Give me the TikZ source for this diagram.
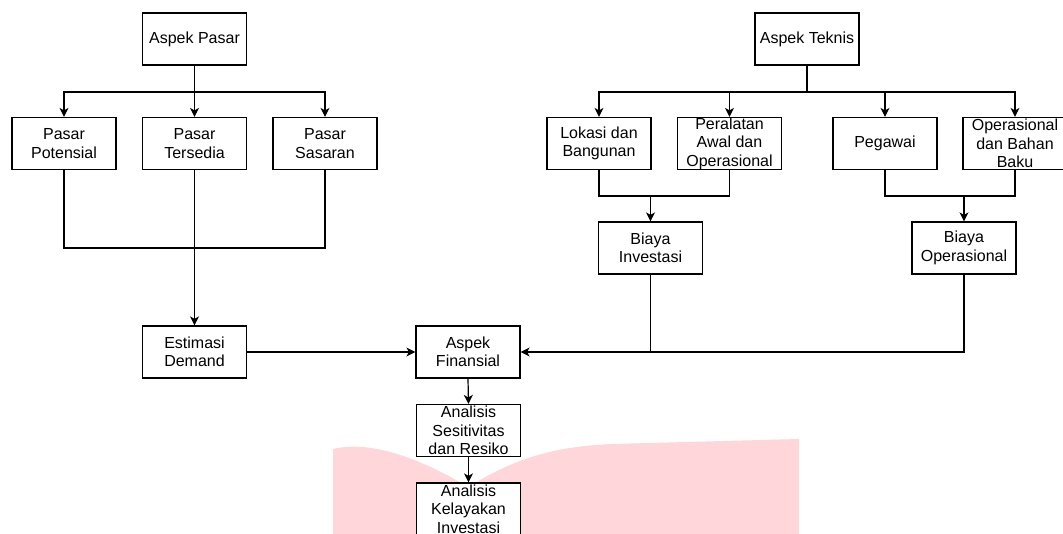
\documentclass[tikz,border=0pt]{standalone}
\usepackage{fontspec}
\setmainfont{Liberation Sans}
\usetikzlibrary{arrows.meta}
\definecolor{wmpink}{HTML}{FFD6D9}
\begin{document}
\begin{tikzpicture}[x=1pt,y=-1pt,
  box/.style={draw=black, fill=white, minimum width=104pt, minimum height=52pt,
    inner sep=0pt, align=center, line width=1.2pt,
    font=\fontsize{16}{18.5}\selectfont},
  conn/.style={line width=1.2pt, draw=black},
  arr/.style={conn, -{Stealth[length=9pt,width=9pt,inset=2.5pt]}}]
\useasboundingbox (0,0) rectangle (1063,534);
% watermark shape
\fill[wmpink] (333,534) -- (333,449)
  .. controls (370,440) and (420,458) .. (468,487)
  .. controls (510,462) and (545,447) .. (612,444)
  -- (799,439) -- (799,534) -- cycle;
% nodes
\node[box] (pasar) at (194.5,39) {Aspek Pasar};
\node[box] (pot) at (64,143.5) {Pasar\\Potensial};
\node[box] (ters) at (194.5,143.5) {Pasar\\Tersedia};
\node[box] (sas) at (325,143.5) {Pasar\\Sasaran};
\node[box] (est) at (194.5,352) {Estimasi\\Demand};
\node[box] (fin) at (468,352) {Aspek\\Finansial};
\node[box] (sens) at (468.5,430.5) {Analisis\\Sesitivitas\\dan Resiko};
\node[box] (kel) at (468.5,509) {Analisis\\Kelayakan\\Investasi};
\node[box] (teknis) at (807,39) {Aspek Teknis};
\node[box] (lok) at (599,143.5) {Lokasi dan\\Bangunan};
\node[box] (per) at (729.5,143.5) {Peralatan\\Awal dan\\Operasional};
\node[box] (peg) at (885,143.5) {Pegawai};
\node[box] (ops) at (1015,143.5) {Operasional\\dan Bahan\\Baku};
\node[box] (binv) at (650.5,248) {Biaya\\Investasi};
\node[box] (bops) at (964,248) {Biaya\\Operasional};
% junctions
\coordinate (jp) at (194.5,92);
\coordinate (jl) at (194.5,248);
\coordinate (jt) at (807,92);
\coordinate (ji) at (650.5,196);
\coordinate (jo) at (964,196);
% connectors: market
\draw[conn] (pasar.south) -- (jp);
\draw[arr] (jp) -| (pot.north);
\draw[arr] (jp) -- (ters.north);
\draw[arr] (jp) -| (sas.north);
\draw[conn] (pot.south) |- (jl) -| (sas.south);
\draw[arr] (ters.south) -- (est.north);
\draw[arr] (est.east) -- (fin.west);
% connectors: technical
\draw[conn] (teknis.south) -- (jt);
\draw[arr] (jt) -| (lok.north);
\draw[arr] (jt) -| (per.north);
\draw[arr] (jt) -| (peg.north);
\draw[arr] (jt) -| (ops.north);
\draw[conn] (lok.south) |- (ji) -| (per.south);
\draw[arr] (ji) -- (binv.north);
\draw[conn] (peg.south) |- (jo) -| (ops.south);
\draw[arr] (jo) -- (bops.north);
\draw[arr] (bops.south) |- (fin.east);
\draw[conn] (binv.south) -- (binv.south |- fin.east);
% connectors: financial chain
\draw[arr] (fin.south) -- (sens.north);
\draw[arr] (sens.south) -- (kel.north);
\end{tikzpicture}
\end{document}
